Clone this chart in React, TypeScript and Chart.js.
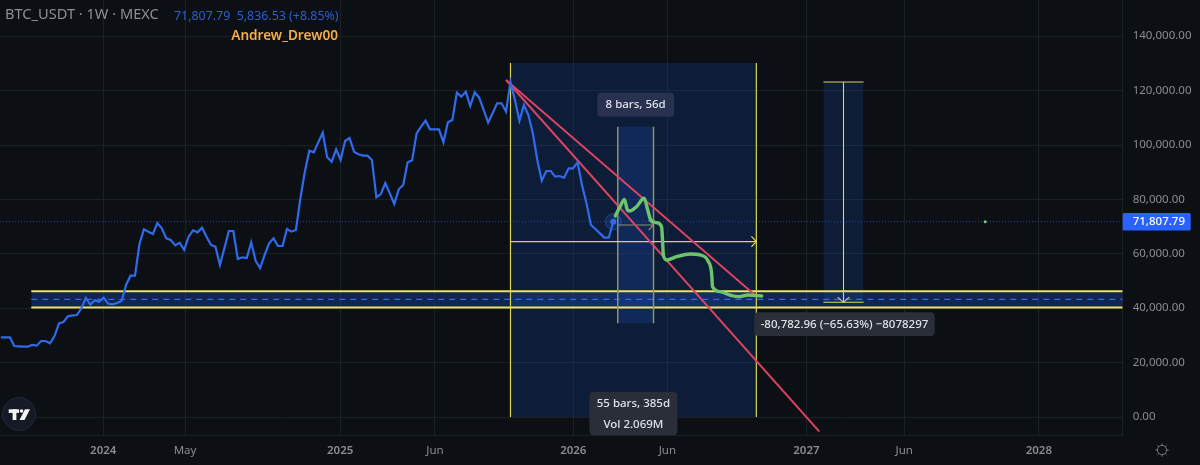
import React, { useEffect, useRef } from "react";
import { Chart, registerables } from "chart.js";

Chart.register(...registerables);

// Weekly closes, BTC_USDT on MEXC, one value per bar
const btcCloses = [
  29300, 29300, 29300, 26100, 25980, 25860, 25860, 26470, 26225, 27940, 27940, 27080, 29780, 34430, 34925, 37010, 37380,
  37500, 39950, 43750, 41300, 42890, 42400, 43870, 41670, 41420, 41910, 42650, 48530, 51960, 51960, 63600, 68990, 68140,
  67280, 71320, 69360, 65680, 65070, 63110, 64090, 61400, 66300, 68630, 67890, 69610, 66300, 63240, 62620, 55880, 62010,
  68380, 68380, 58090, 58700, 58460, 64220, 57350, 54780, 59560, 63850, 65680, 62870, 62870, 69120, 68140, 68750,
  80390, 90200, 97920, 97300, 100980, 104530, 95470, 93870, 98410, 94490, 101470, 102570, 97550, 96570, 96080, 96080,
  94490, 80760, 81980, 86030, 82230, 78310, 83700, 85300, 93630, 94360, 104290, 106740, 108950, 105760, 105760, 105760,
  100980, 108330, 109190, 119240, 117770, 119610, 114340, 119360, 117400, 112870, 108210, 111640, 115320, 115320, 112250,
  123090, 116540, 108820, 114710, 111030, 104290, 94490, 86890, 90440, 90440, 88360, 88600, 87990, 91420, 91420, 93630,
  85300, 78550, 70590, 69120, 67520, 65971, 65971, 71807.79,
];

// Hand-drawn projection
const forecastWeeks = [137.45, 138.5, 139.5, 140.1, 140.7, 142.2, 143.9, 144.7, 145.4, 146.7, 147.8, 148.05, 148.2, 148.95, 151.2, 154.2, 156.4, 158.3, 159, 159.2, 160.9, 163.1, 165, 167.2, 170.2];
const forecastPrices = [73900, 77330, 80025, 76350, 75735, 77330, 80400, 76100, 72400, 71450, 69970, 63850, 59560, 57720, 58950, 59925, 59560, 57100, 52820, 47920, 46080, 44850, 44240, 44850, 44490];

// Time axis
const xTickWeeks = [22.9, 41.2, 75.9, 97.1, 128.05, 149.1, 180.2, 202.1, 232.2];
const xTickLabels = ["2024", "May", "2025", "Jun", "2026", "Jun", "2027", "Jun", "2028"];
const yTicks = [0, 20000, 40000, 60000, 80000, 100000, 120000, 140000];

const LAST_PRICE = 71807.79;
const WEEK_MIN = -0.2;
const WEEK_MAX = 250.96;
const PRICE_MIN = -6875;
const PRICE_MAX = 153309;

// Drawing objects, in week / price coordinates
const bandWeeks = [6.8, WEEK_MAX];
const bandTop = 46200;
const bandMid = 43270;
const bandBottom = 40300;
const bigRangeWeeks = [114, 169];
const bigRangePrices = [130150, 0];
const smallRangeWeeks = [138, 146];
const smallRangePrices = [106700, 34450];
const priceRangeWeeks = [184, 193];
const priceRangePrices = [123160, 42170];
const steepTrendWeeks = [113, 183.1];
const steepTrendPrices = [123900, -5400];
const shallowTrendWeeks = [113, 169.2];
const shallowTrendPrices = [123900, 44100];
const bigArrowPrice = 64500;
const smallArrowPrice = 70590;

const FONT = '"Noto Sans", sans-serif';
const BG = "#0c0f14";
const GRID = "#1c2027";

type Pt = { x: number; y: number };

const zip = (xs: number[], ys: number[]): Pt[] => xs.map((x, i) => ({ x, y: ys[i] }));

const line = (data: Pt[], color: string, width: number, order: number, dash: number[] = []) => ({
  type: "line" as const,
  data,
  borderColor: color,
  borderWidth: width,
  borderDash: dash,
  pointRadius: 0,
  tension: 0,
  fill: false,
  order,
});

const box = (xs: number[], ys: number[], color: string, order: number) => ({
  type: "line" as const,
  data: [
    { x: xs[0], y: ys[0] },
    { x: xs[1], y: ys[0] },
  ],
  borderWidth: 0,
  pointRadius: 0,
  backgroundColor: color,
  fill: { value: ys[1] },
  order,
});

const pill = (
  ctx: CanvasRenderingContext2D,
  x: number,
  y: number,
  w: number,
  h: number,
  bg: string,
  rows: string[],
) => {
  ctx.fillStyle = bg;
  ctx.beginPath();
  ctx.roundRect(x, y, w, h, 4);
  ctx.fill();
  ctx.fillStyle = "#dfe1e6";
  ctx.font = `500 11.5px ${FONT}`;
  ctx.textAlign = "center";
  ctx.textBaseline = "middle";
  rows.forEach((row, i) => ctx.fillText(row, x + w / 2, y + (h * (i + 0.5)) / rows.length + 0.5));
};

const noAxisInset = (s: any) => {
  s.paddingLeft = 0;
  s.paddingRight = 0;
  s.paddingTop = 0;
  s.paddingBottom = 0;
};

const decorations = {
  id: "decorations",
  afterDraw(chart: any) {
    const { ctx, scales } = chart;
    const X = (v: number) => scales.x.getPixelForValue(v);
    const Y = (v: number) => scales.y.getPixelForValue(v);
    ctx.save();

    // tool labels
    pill(ctx, X(142) - 38.5, 92.7, 77, 24, "#283250", ["8 bars, 56d"]);
    pill(ctx, X(141.5) - 44, 392, 88, 43, "#2a2e39", ["55 bars, 385d", "Vol 2.069M"]);
    pill(ctx, 754.3, 312.3, 180.4, 23.7, "#2a2e39", ["-80,782.96 (−65.63%) −8078297"]);

    // last price tag
    const tagY = Y(LAST_PRICE);
    ctx.fillStyle = "#2962ff";
    ctx.beginPath();
    ctx.roundRect(1122.7, tagY - 8.7, 68, 17.4, 1.5);
    ctx.fill();
    ctx.fillStyle = "#ffffff";
    ctx.font = `500 11.5px ${FONT}`;
    ctx.textAlign = "left";
    ctx.textBaseline = "middle";
    ctx.fillText(
      LAST_PRICE.toLocaleString("en-US", { minimumFractionDigits: 2 }),
      1132.7,
      tagY + 0.5,
    );

    // header
    ctx.textBaseline = "middle";
    ctx.textAlign = "left";
    ctx.fillStyle = "#8d8f94";
    ctx.font = `14.6px ${FONT}`;
    ctx.fillText("BTC_USDT · 1W · MEXC", 5, 15);
    ctx.fillStyle = "#2c5fd0";
    ctx.font = `12.4px ${FONT}`;
    ctx.fillText("71,807.79  5,836.53 (+8.85%)", 174, 16);
    ctx.fillStyle = "#f5ad4b";
    ctx.font = `600 13.6px ${FONT}`;
    ctx.textAlign = "right";
    ctx.fillText("Andrew_Drew00", 338, 36);

    // TradingView badge
    ctx.fillStyle = "#161a26";
    ctx.strokeStyle = "#242833";
    ctx.lineWidth = 1;
    ctx.beginPath();
    ctx.arc(19, 414, 16.5, 0, Math.PI * 2);
    ctx.fill();
    ctx.stroke();
    ctx.fillStyle = "#f2f3f5";
    ctx.fillRect(8.7, 409.3, 10.3, 3.6);
    ctx.fillRect(12.6, 409.3, 3.8, 10.7);
    ctx.beginPath();
    ctx.arc(21.5, 411, 1.8, 0, Math.PI * 2);
    ctx.fill();
    ctx.beginPath();
    ctx.moveTo(25, 409.3);
    ctx.lineTo(30, 409.3);
    ctx.lineTo(24.5, 420);
    ctx.lineTo(19.5, 420);
    ctx.closePath();
    ctx.fill();

    // settings gear
    ctx.strokeStyle = "#75787f";
    ctx.lineWidth = 1;
    ctx.beginPath();
    ctx.arc(1162, 450, 4.6, 0, Math.PI * 2);
    ctx.stroke();
    for (let a = 0; a < 8; a++) {
      const t = (a * Math.PI) / 4;
      ctx.beginPath();
      ctx.moveTo(1162 + Math.cos(t) * 4.6, 450 + Math.sin(t) * 4.6);
      ctx.lineTo(1162 + Math.cos(t) * 6.6, 450 + Math.sin(t) * 6.6);
      ctx.stroke();
    }
    ctx.restore();
  },
};

export default function App() {
  const ref = useRef<HTMLCanvasElement | null>(null);

  useEffect(() => {
    document.body.style.margin = "0";
    document.body.style.background = BG;
    const yellow = "#ece35f";
    const thin = "#dcd650";
    const muted = "#8f9468";
    const weeks = btcCloses.map((_, i) => i);
    const lastIdx = btcCloses.length - 1;

    const chart = new Chart(ref.current as HTMLCanvasElement, {
      type: "line",
      data: {
        datasets: [
          box(bigRangeWeeks, bigRangePrices, "rgba(20,70,150,0.27)", 100),
          box(smallRangeWeeks, smallRangePrices, "rgba(25,70,170,0.3)", 99),
          box(priceRangeWeeks, priceRangePrices, "rgba(20,70,150,0.25)", 98),
          box(bandWeeks, [bandTop, bandBottom], "rgba(25,70,170,0.42)", 97),
          line(zip(bandWeeks, [bandMid, bandMid]), "#3a68d6", 1.2, 90, [6, 5]),
          line(zip([WEEK_MIN, WEEK_MAX], [LAST_PRICE, LAST_PRICE]), "#27499c", 1, 89, [1, 2]),
          line(zip(bandWeeks, [bandTop, bandTop]), yellow, 2, 60),
          line(zip(bandWeeks, [bandBottom, bandBottom]), yellow, 2, 60),
          // date range, 55 bars
          line(zip([bigRangeWeeks[0], bigRangeWeeks[0]], bigRangePrices), thin, 1.2, 50),
          line(zip([bigRangeWeeks[1], bigRangeWeeks[1]], bigRangePrices), thin, 1.2, 50),
          line(zip(bigRangeWeeks, [bigArrowPrice, bigArrowPrice]), thin, 1.2, 50),
          line(zip([167.9, 169, 167.9], [bigArrowPrice + 1900, bigArrowPrice, bigArrowPrice - 1900]), thin, 1.2, 50),
          // date range, 8 bars
          line(zip([smallRangeWeeks[0], smallRangeWeeks[0]], smallRangePrices), muted, 1.5, 50),
          line(zip([smallRangeWeeks[1], smallRangeWeeks[1]], smallRangePrices), muted, 1.5, 50),
          line(zip(smallRangeWeeks, [smallArrowPrice, smallArrowPrice]), muted, 1.1, 50),
          line(zip([144.9, 146, 144.9], [smallArrowPrice + 1900, smallArrowPrice, smallArrowPrice - 1900]), muted, 1.1, 50),
          // price range
          line(zip(priceRangeWeeks, [priceRangePrices[0], priceRangePrices[0]]), thin, 1.1, 50),
          line(zip(priceRangeWeeks, [priceRangePrices[1], priceRangePrices[1]]), thin, 1.1, 50),
          line(zip([188.5, 188.5], priceRangePrices), thin, 1.1, 50),
          line(zip([187.2, 188.5, 189.8], [priceRangePrices[1] + 1900, priceRangePrices[1], priceRangePrices[1] + 1900]), thin, 1.1, 50),
          // trend lines
          line(zip(steepTrendWeeks, steepTrendPrices), "#dc4360", 2, 30),
          line(zip(shallowTrendWeeks, shallowTrendPrices), "#dc4360", 2, 30),
          // price
          {
            type: "line" as const,
            data: zip(weeks, btcCloses),
            borderColor: "#2f6bec",
            borderWidth: 2.2,
            tension: 0,
            fill: false,
            pointRadius: weeks.map((i) => (i === lastIdx ? 3 : 0)),
            pointBackgroundColor: "#2f6bec",
            pointBorderWidth: 0,
            order: 20,
          },
          // last price halo
          {
            type: "line" as const,
            data: [{ x: lastIdx, y: LAST_PRICE }],
            showLine: false,
            pointRadius: 8,
            pointBackgroundColor: "rgba(47,107,236,0.18)",
            pointBorderColor: "rgba(47,107,236,0.45)",
            pointBorderWidth: 1,
            order: 21,
          },
          // projection
          {
            type: "line" as const,
            data: zip(forecastWeeks, forecastPrices),
            borderColor: "#6dc56b",
            borderWidth: 3.4,
            tension: 0.35,
            cubicInterpolationMode: "monotone" as const,
            pointRadius: 0,
            fill: false,
            borderCapStyle: "round" as const,
            borderJoinStyle: "round" as const,
            order: 10,
          },
          // stray dot on the chart
          {
            type: "line" as const,
            data: [{ x: 220.2, y: LAST_PRICE }],
            showLine: false,
            pointRadius: 1.5,
            pointBackgroundColor: "#7fc88a",
            pointBorderWidth: 0,
            order: 11,
          },
        ] as any,
      },
      options: {
        responsive: false,
        animation: false,
        layout: { padding: 0, autoPadding: false },
        plugins: { legend: { display: false }, tooltip: { enabled: false }, title: { display: false } },
        events: [],
        scales: {
          x: {
            type: "linear",
            min: WEEK_MIN,
            max: WEEK_MAX,
            afterBuildTicks: (s: any) => {
              s.ticks = xTickWeeks.map((value) => ({ value }));
            },
            afterFit: (s: any) => {
              s.height = 29.3;
              noAxisInset(s);
            },
            grid: { color: GRID, lineWidth: 1, drawTicks: false },
            border: { color: GRID, display: true },
            ticks: {
              autoSkip: false,
              maxRotation: 0,
              padding: 8,
              color: "#8a8c91",
              font: (c: any) => ({
                family: FONT,
                size: 11.5,
                weight: /^\d/.test(xTickLabels[c.index] || "") ? 600 : 400,
              }),
              callback: (_v: any, i: number) => xTickLabels[i],
            },
          },
          y: {
            type: "linear",
            position: "right",
            min: PRICE_MIN,
            max: PRICE_MAX,
            afterBuildTicks: (s: any) => {
              s.ticks = yTicks.map((value) => ({ value }));
            },
            afterFit: (s: any) => {
              s.width = 77.3;
              noAxisInset(s);
            },
            grid: { color: GRID, lineWidth: 1, drawTicks: false },
            border: { color: GRID, display: true },
            ticks: {
              padding: 10,
              color: "#8a8c91",
              font: { family: FONT, size: 11.5 },
              callback: (v: any) => Number(v).toLocaleString("en-US", { minimumFractionDigits: 2 }),
            },
          },
        },
      } as any,
      plugins: [decorations],
    });
    return () => chart.destroy();
  }, []);

  return (
    <div style={{ position: "fixed", left: 0, top: 0, width: 1200, height: 465, background: BG }}>
      <canvas ref={ref} width={1200} height={465} style={{ display: "block", width: 1200, height: 465 }} />
    </div>
  );
}
